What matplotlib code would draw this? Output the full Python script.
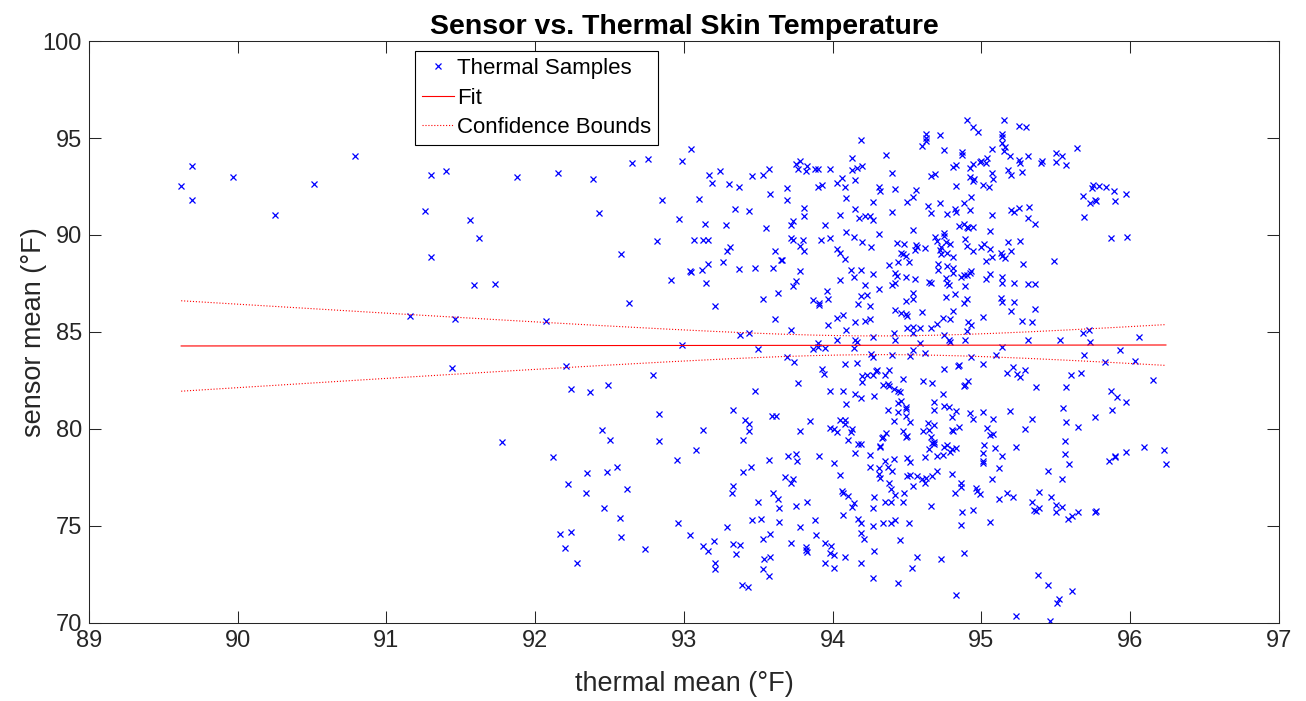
import numpy as np
import matplotlib
matplotlib.use('Agg')
import matplotlib.pyplot as plt

plt.rcParams['font.family'] = ['Liberation Sans', 'DejaVu Sans']

# ============================================================
# DATA  (thermal mean, sensor mean) in degrees F
# ============================================================
samples = [
    (89.69, 93.56), (89.62, 92.54), (89.69, 91.79), (89.97, 92.97), (90.25, 91.03), (90.51, 92.61),
    (90.79, 94.05), (91.30, 93.08), (91.40, 93.30), (91.26, 91.22), (91.56, 90.77), (91.62, 89.83),
    (91.30, 88.86), (91.59, 87.42), (91.73, 87.47), (91.16, 85.82), (91.46, 85.67), (91.44, 83.13),
    (91.88, 92.97), (92.15, 93.20), (92.39, 92.90), (92.65, 93.71), (92.76, 93.92), (92.85, 91.79),
    (92.43, 91.15), (92.97, 90.84), (92.82, 89.67), (92.58, 89.04), (92.91, 87.68), (92.63, 86.50),
    (92.07, 85.58), (92.21, 83.25), (92.79, 82.78), (92.24, 82.06), (92.37, 81.89), (92.49, 82.29),
    (92.83, 80.77), (91.78, 79.31), (92.45, 79.95), (92.50, 79.43), (92.83, 79.40), (92.12, 78.54),
    (92.95, 78.38), (92.35, 77.75), (92.48, 77.77), (92.55, 78.04), (92.22, 77.15), (92.34, 76.72),
    (92.62, 76.92), (92.46, 75.91), (92.57, 75.40), (92.96, 75.14), (92.17, 74.57), (92.24, 74.71),
    (92.58, 74.43), (92.20, 73.87), (92.74, 73.83), (92.28, 73.08),
    (93.05, 94.42), (92.99, 93.80), (93.17, 93.11), (93.24, 93.30), (93.19, 92.66), (93.30, 92.63),
    (93.37, 92.49), (93.46, 93.02), (93.53, 93.07), (93.57, 93.40), (93.58, 92.13), (93.10, 91.85),
    (93.34, 91.34), (93.44, 91.22), (93.14, 90.55), (93.28, 90.51), (93.55, 90.36), (93.07, 89.74),
    (93.13, 89.74), (93.16, 89.74), (93.31, 89.40), (93.29, 89.16), (93.61, 89.17), (93.65, 88.71),
    (93.16, 88.52), (93.26, 88.59), (93.04, 88.16), (93.05, 88.07), (93.12, 88.18), (93.37, 88.25),
    (93.48, 88.30), (93.60, 88.28), (93.15, 87.52), (93.63, 86.99), (93.53, 86.72), (93.21, 86.32),
    (93.61, 85.69), (93.38, 84.86), (93.44, 84.97), (92.99, 84.35), (93.50, 84.12),
    (93.48, 81.96), (93.33, 80.98), (93.41, 80.45), (93.44, 80.24), (93.44, 79.88), (93.13, 79.97),
    (93.40, 79.42), (93.59, 80.69), (93.62, 80.69), (93.08, 78.90), (93.57, 78.39), (93.40, 77.80),
    (93.45, 78.02), (93.33, 77.05), (93.32, 76.70), (93.60, 76.70), (93.63, 76.39), (93.50, 76.24),
    (93.64, 75.93), (93.04, 74.54), (93.29, 74.93), (93.46, 75.31), (93.52, 75.38), (93.64, 75.19),
    (93.20, 74.25), (93.13, 73.99), (93.16, 73.73), (93.33, 74.09), (93.38, 74.02), (93.35, 73.57),
    (93.53, 74.35), (93.58, 74.59), (93.21, 73.08), (93.21, 72.78), (93.54, 73.28), (93.58, 73.42),
    (93.53, 72.77), (93.57, 72.42), (93.39, 71.94), (93.43, 71.84),
    (94.19, 94.91), (94.13, 93.95), (93.75, 93.66), (93.78, 93.81), (93.77, 93.42), (93.83, 93.54),
    (93.82, 93.28), (93.88, 93.42), (93.90, 93.40), (93.98, 93.38), (94.13, 93.35), (94.16, 93.44),
    (94.20, 93.57), (94.06, 92.94), (94.03, 92.66), (94.15, 92.82), (94.08, 92.46), (93.90, 92.47),
    (93.93, 92.56), (93.69, 92.40), (94.09, 91.92), (93.69, 91.80), (93.81, 91.39), (94.15, 91.32),
    (93.81, 90.98), (94.05, 91.03), (94.18, 90.88), (94.22, 91.00), (94.25, 90.96), (93.73, 90.72),
    (93.72, 90.50), (93.95, 90.50), (93.72, 89.86), (93.73, 89.74), (93.80, 89.76), (93.92, 89.72),
    (93.98, 89.83), (94.09, 90.17), (94.14, 89.91), (94.20, 89.64), (93.78, 89.43), (93.81, 89.16),
    (94.03, 89.29), (94.05, 89.05), (94.08, 88.78), (93.66, 88.69), (93.78, 88.16), (94.12, 88.21),
    (94.19, 88.18), (94.14, 87.82), (94.05, 87.66), (93.75, 87.61), (93.73, 87.37), (94.22, 87.44),
    (93.96, 87.10), (93.97, 86.70), (93.87, 86.65), (93.91, 86.51), (93.91, 86.37), (94.17, 86.46),
    (94.19, 86.87), (94.23, 86.89), (94.03, 85.72), (94.07, 85.86), (94.15, 85.53), (94.22, 85.55),
    (94.25, 85.67), (93.97, 85.36), (94.09, 85.10), (93.72, 85.09), (94.03, 84.60), (94.15, 84.59),
    (94.16, 84.50), (93.90, 84.43), (93.87, 84.14), (93.90, 84.23), (93.95, 84.17), (94.14, 84.16),
    (93.69, 83.71),
    (93.74, 83.47), (94.08, 83.35), (94.16, 83.42), (93.93, 83.09), (93.94, 82.82), (94.20, 82.75),
    (94.23, 82.78), (94.20, 82.41), (93.77, 82.37), (93.98, 81.94), (94.07, 81.96), (94.15, 81.79),
    (94.19, 81.62), (94.09, 81.29), (93.85, 80.40), (94.05, 80.46), (94.08, 80.46), (94.08, 80.24),
    (93.78, 79.90), (93.98, 80.07), (94.01, 80.02), (94.03, 79.83), (94.13, 80.00), (94.12, 79.83),
    (94.10, 79.43), (94.17, 79.24), (94.19, 79.21), (94.15, 78.75), (94.25, 78.68), (93.70, 78.59),
    (93.75, 78.69), (93.76, 78.33), (93.91, 78.59), (94.01, 78.23), (93.68, 77.51), (93.73, 77.42),
    (93.72, 77.23), (94.05, 77.61), (94.06, 76.80), (94.07, 76.72), (94.10, 76.53), (93.75, 76.01),
    (93.83, 76.22), (94.14, 76.17), (94.13, 75.98), (94.07, 75.55), (93.88, 75.29), (94.17, 75.38),
    (94.19, 75.16), (93.78, 74.93), (93.89, 74.54), (94.19, 74.62), (94.21, 74.35), (93.72, 74.12),
    (93.82, 73.90), (93.82, 73.78), (93.83, 73.64), (93.95, 74.12), (93.99, 73.97), (93.98, 73.59),
    (94.01, 73.52), (93.95, 73.09), (94.01, 72.82), (94.08, 73.39), (94.19, 73.11),
    (94.63, 95.21), (94.63, 94.98), (94.63, 94.86), (94.60, 94.60), (94.72, 95.15), (94.36, 94.12),
    (94.75, 94.40), (94.87, 94.26), (94.87, 94.14), (94.81, 93.50), (94.83, 93.63), (94.40, 93.18),
    (94.66, 93.04), (94.69, 93.14), (94.31, 92.46), (94.32, 92.27), (94.42, 92.37), (94.56, 92.32),
    (94.54, 91.98), (94.83, 92.51), (94.50, 91.70), (94.27, 91.68), (94.64, 91.48), (94.72, 91.63),
    (94.88, 91.67), (94.40, 91.20), (94.66, 91.12), (94.77, 91.08), (94.82, 91.36), (94.83, 91.20),
    (94.27, 90.77), (94.85, 90.48), (94.88, 90.55), (94.54, 90.26), (94.31, 90.03), (94.69, 89.91),
    (94.75, 90.09), (94.75, 89.95), (94.70, 89.69), (94.76, 89.66), (94.79, 89.55), (94.43, 89.60),
    (94.48, 89.52), (94.56, 89.48), (94.57, 89.40), (94.55, 89.21), (94.62, 89.33), (94.73, 89.40),
    (94.72, 89.23), (94.73, 89.02), (94.77, 89.09), (94.26, 89.36), (94.46, 89.09), (94.47, 89.02),
    (94.49, 88.92), (94.81, 88.87), (94.44, 88.62), (94.51, 88.59), (94.38, 88.45), (94.71, 88.49),
    (94.77, 88.38), (94.71, 88.18), (94.81, 88.30), (94.81, 88.02), (94.42, 88.02), (94.43, 87.90),
    (94.27, 87.99), (94.49, 87.83), (94.55, 87.71), (94.65, 87.58), (94.66, 87.54), (94.76, 87.77),
    (94.77, 87.54), (94.78, 87.44), (94.86, 87.85), (94.88, 87.92), (94.40, 87.44), (94.42, 87.52),
    (94.31, 87.22), (94.54, 87.01), (94.54, 86.70), (94.49, 86.60), (94.76, 86.82), (94.82, 86.98),
    (94.88, 86.48), (94.25, 86.36), (94.42, 86.13), (94.46, 85.96), (94.49, 85.91), (94.50, 85.82),
    (94.60, 86.03), (94.81, 86.08), (94.74, 85.74), (94.79, 85.65), (94.70, 85.39), (94.54, 85.26),
    (94.59, 85.19), (94.66, 85.19), (94.50, 85.20), (94.41, 84.95), (94.54, 84.95), (94.75, 84.83),
    (94.27, 84.76), (94.42, 84.59), (94.59, 84.42), (94.78, 84.59), (94.79, 84.47), (94.54, 84.07),
    (94.52, 83.76), (94.62, 83.90), (94.40, 83.80), (94.26, 83.88), (94.27, 83.73),
    (94.30, 83.04), (94.29, 82.99), (94.27, 82.78), (94.35, 82.77), (94.38, 83.04), (94.75, 83.11),
    (94.84, 83.25), (94.85, 83.32), (94.47, 82.56), (94.61, 82.49), (94.67, 82.39), (94.34, 82.29),
    (94.37, 82.30), (94.38, 82.20), (94.41, 82.06), (94.44, 81.96), (94.45, 81.89), (94.88, 82.22),
    (94.28, 81.72), (94.74, 81.79), (94.44, 81.36), (94.46, 81.46), (94.68, 81.41), (94.37, 80.96),
    (94.44, 80.88), (94.49, 81.12), (94.49, 81.05), (94.68, 80.96), (94.75, 81.17), (94.78, 81.15),
    (94.83, 80.91), (94.80, 80.60), (94.49, 80.65), (94.52, 80.36), (94.41, 80.43), (94.64, 80.31),
    (94.68, 80.19), (94.65, 79.97), (94.61, 79.91), (94.80, 79.95), (94.81, 79.91), (94.85, 80.12),
    (94.47, 79.90), (94.36, 79.81), (94.50, 79.64), (94.49, 79.57), (94.34, 79.61), (94.33, 79.54),
    (94.66, 79.57), (94.68, 79.35), (94.68, 79.23), (94.67, 79.26), (94.32, 79.14), (94.32, 79.06),
    (94.77, 79.19), (94.75, 79.07), (94.80, 78.99), (94.83, 79.00), (94.79, 78.81), (94.65, 78.99),
    (94.62, 78.56), (94.70, 78.61), (94.74, 78.68), (94.50, 78.51), (94.52, 78.30), (94.35, 78.35),
    (94.41, 78.43), (94.25, 78.06), (94.37, 78.06), (94.40, 77.85), (94.31, 77.97), (94.31, 77.70),
    (94.32, 77.46), (94.50, 77.60), (94.52, 77.65), (94.57, 77.60), (94.60, 77.41), (94.63, 77.47),
    (94.67, 77.56), (94.70, 77.82), (94.80, 77.68), (94.62, 77.20), (94.54, 77.06), (94.38, 77.20),
    (94.39, 76.91), (94.86, 77.23), (94.86, 77.01), (94.82, 76.70), (94.28, 76.49), (94.42, 76.58),
    (94.48, 76.68), (94.35, 76.24), (94.39, 76.26), (94.47, 76.22), (94.66, 76.01), (94.27, 75.91),
    (94.87, 75.72), (94.34, 75.14), (94.39, 75.17), (94.42, 75.31), (94.51, 75.14), (94.27, 75.02),
    (94.86, 75.05), (94.45, 74.28), (94.28, 73.71), (94.57, 73.42), (94.73, 73.28), (94.88, 73.59),
    (94.53, 72.82), (94.27, 72.34), (94.44, 72.08), (94.83, 71.44),
    (94.90, 95.93), (95.15, 95.95), (95.25, 95.64), (95.30, 95.55), (94.94, 95.55), (94.98, 95.29),
    (95.14, 95.19), (95.14, 95.03), (95.14, 94.72), (95.16, 94.55), (95.15, 94.33), (95.07, 94.42),
    (95.19, 94.09), (95.31, 94.09), (95.50, 94.21), (95.04, 93.95), (95.00, 93.83), (94.99, 93.75),
    (95.03, 93.73), (94.94, 93.64), (94.92, 93.45), (95.25, 93.87), (95.26, 93.69), (95.41, 93.83),
    (95.40, 93.69), (95.50, 93.75), (95.18, 93.35), (95.20, 93.08), (95.27, 93.23), (95.07, 93.21),
    (94.92, 92.99), (94.95, 92.87), (94.94, 92.76), (95.08, 92.89), (95.01, 92.59), (95.05, 92.49),
    (94.93, 91.94), (94.92, 91.29), (95.20, 91.29), (95.22, 91.20), (95.25, 91.41), (95.32, 91.46),
    (95.07, 91.03), (95.31, 90.88), (95.36, 90.55), (94.90, 90.43), (94.91, 90.34), (94.94, 90.39),
    (95.06, 90.22), (94.90, 89.43), (95.00, 89.36), (95.02, 89.52), (95.06, 89.29), (94.94, 89.19),
    (95.18, 89.64), (95.26, 89.67), (95.20, 89.16), (95.13, 89.05), (95.14, 88.93), (95.16, 88.83),
    (95.07, 88.88), (95.03, 88.68), (95.28, 88.49), (95.49, 88.68), (94.93, 88.14), (94.92, 88.02),
    (94.90, 87.94), (95.06, 88.01), (95.03, 87.71), (95.14, 87.82), (95.14, 87.51), (95.22, 87.52),
    (95.31, 87.46), (95.36, 87.47), (94.90, 86.72), (95.13, 86.73), (95.14, 86.56), (95.22, 86.55),
    (95.20, 86.10), (95.36, 86.19), (95.01, 85.76), (95.27, 85.57), (95.34, 85.50), (94.91, 85.50),
    (94.93, 85.36), (94.90, 85.05), (95.31, 84.59), (95.14, 84.21), (94.93, 83.71), (95.10, 83.80),
    (94.89, 84.57), (94.89, 89.78), (94.89, 87.37),
    (95.01, 83.35), (95.21, 83.18), (95.29, 83.04), (95.17, 82.87), (95.24, 82.84), (95.26, 82.70),
    (94.91, 82.47), (94.89, 82.27), (95.37, 82.18), (94.92, 80.83), (94.94, 80.52), (95.01, 80.86),
    (95.19, 80.95), (95.08, 80.50), (95.34, 80.53), (95.04, 80.05), (95.08, 79.76), (95.06, 79.67),
    (95.29, 80.02), (95.02, 79.16), (95.09, 79.04), (95.23, 79.07), (95.01, 78.76), (95.14, 78.59),
    (95.01, 78.35), (95.01, 78.23), (95.12, 77.97), (95.45, 77.82), (95.07, 77.41), (94.96, 76.98),
    (94.97, 76.82), (94.99, 76.65), (95.17, 76.70), (95.21, 76.48), (95.12, 76.37), (95.39, 76.75),
    (95.47, 76.50), (95.34, 76.22), (95.35, 75.81), (95.37, 75.79), (95.39, 75.95), (95.50, 76.08),
    (95.50, 75.72), (94.94, 75.83), (95.06, 75.21), (95.38, 72.46), (95.45, 71.94), (95.52, 71.24),
    (95.51, 71.01), (95.23, 70.36), (95.46, 70.10),
    (95.54, 94.07), (95.64, 94.48), (95.57, 93.61), (95.75, 92.58), (95.74, 92.41), (95.79, 92.54),
    (95.84, 92.47), (95.89, 92.27), (95.97, 92.11), (95.68, 91.99), (95.76, 91.80), (95.77, 91.77),
    (95.73, 91.63), (95.90, 91.75), (95.69, 90.94), (95.87, 89.86), (95.98, 89.88), (95.68, 84.93),
    (95.72, 85.10), (95.53, 84.59), (95.73, 84.50), (96.06, 84.72), (95.93, 84.07), (95.69, 83.82),
    (95.83, 83.47), (96.03, 83.51), (95.60, 82.78), (95.67, 82.89), (95.57, 82.17), (96.15, 82.51),
    (95.87, 81.94), (95.91, 81.67), (95.97, 81.41), (95.55, 81.08), (95.88, 80.96), (95.76, 80.64),
    (95.57, 80.38), (95.65, 80.09), (95.56, 79.40), (95.56, 78.73), (95.59, 78.20), (95.86, 78.37),
    (95.90, 78.57), (95.90, 78.61), (95.97, 78.80), (96.09, 79.09), (96.23, 78.90), (96.24, 78.20),
    (95.54, 77.42), (95.54, 76.00), (95.58, 75.34), (95.61, 75.50), (95.65, 75.71), (95.76, 75.71),
    (95.77, 75.77), (95.61, 71.67),
]
thermal_mean, sensor_mean = np.array(samples).T

x_ticks = [89, 90, 91, 92, 93, 94, 95, 96, 97]
y_ticks = [70, 75, 80, 85, 90, 95, 100]

# ============================================================
# LINEAR FIT + 95% CONFIDENCE BOUNDS ON THE FIT
# ============================================================
p = np.polyfit(thermal_mean, sensor_mean, 1)
n = len(thermal_mean)
resid = sensor_mean - np.polyval(p, thermal_mean)
s = np.sqrt(np.sum(resid**2) / (n - 2))
xm = thermal_mean.mean()
sxx = np.sum((thermal_mean - xm)**2)
t_val = 1.964

xg = np.linspace(thermal_mean.min(), thermal_mean.max(), 200)
yg = np.polyval(p, xg)
half = t_val * s * np.sqrt(1.0/n + (xg - xm)**2 / sxx)

# ============================================================
# PLOT
# ============================================================
dark = (0.15, 0.15, 0.15)
fig = plt.figure(figsize=(13.06, 7.01), dpi=100)
ax = fig.add_axes([0.0681, 0.1113, 0.9112, 0.8302])

ax.plot(thermal_mean, sensor_mean, 'x', color='blue', ms=4, mew=0.9,
        label='Thermal Samples')
ax.plot(xg, yg, '-', color='red', lw=0.8, label='Fit')
ax.plot(xg, yg + half, ':', color='red', lw=0.8, label='Confidence Bounds')
ax.plot(xg, yg - half, ':', color='red', lw=0.8)

ax.set_xlim(89, 97)
ax.set_ylim(70, 100)
ax.set_xticks(x_ticks)
ax.set_yticks(y_ticks)
ax.tick_params(direction='in', top=True, right=True, length=8.5, width=0.75,
               labelsize=17, colors=dark, pad=5)
for sp in ax.spines.values():
    sp.set_color(dark)
    sp.set_linewidth(0.75)

ax.set_xlabel('thermal mean (°F)', fontsize=19.5, color=dark, labelpad=14)
ax.set_ylabel('sensor mean (°F)', fontsize=19.5, color=dark, labelpad=-3)
ax.set_title('Sensor vs. Thermal Skin Temperature', fontsize=20.5, fontweight='bold', pad=5)

leg = ax.legend(loc='upper left', bbox_to_anchor=(0.274, 0.982), fontsize=16,
                fancybox=False, framealpha=1, edgecolor='black', handlelength=1.45,
                borderpad=0.3, labelspacing=0.38, handletextpad=0.15, borderaxespad=0)
leg.get_frame().set_linewidth(0.8)

plt.savefig('out.png', dpi=100)
